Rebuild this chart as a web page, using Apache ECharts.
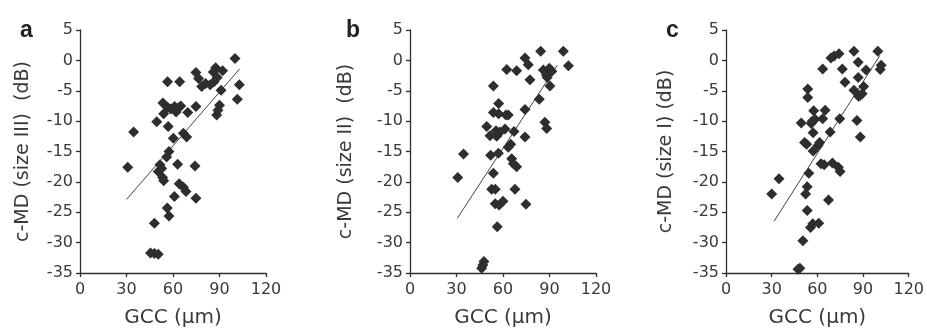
<!DOCTYPE html>
<html><head><meta charset="utf-8">
<script src="https://cdn.jsdelivr.net/npm/echarts@6/dist/echarts.min.js"></script>
<style>html,body{margin:0;padding:0;background:#fff}#c{width:927px;height:335px}</style>
</head><body><div id="c"></div>
<script>
// Panel labels and axis titles
const panelLetters = ['a', 'b', 'c'];
const yTitles = ['c-MD (size III)  (dB)', 'c-MD (size II)  (dB)', 'c-MD (size I) (dB)'];
const xTitle = 'GCC (µm)';
const xTicks = [0, 30, 60, 90, 120];
const yTicks = [-35, -30, -25, -20, -15, -10, -5, 0, 5];

// Panel a: GCC (x) and c-MD size III (y)
const gccA = [100,30.8,34.6,56.5,64.3,74.8,76.5,78.5,81,84,86,87.5,88.5,92,86.5,91,102.8,101.5,88.2,89,90,74.8,69.5,53.5,56.5,58.5,61,63.5,65,54,62,49.5,56.9,60.2,66.7,68.8,57.4,55.9,51.6,52.7,50.5,53.3,54,63,74.2,64,66.7,68.4,74.8,60.9,56.3,57.4,48,45.5,50.5,48];
const mdA  = [0.3,-17.6,-11.8,-3.5,-3.5,-2,-3,-4.3,-3.8,-4,-1.9,-1.2,-2.8,-1.7,-3.5,-4.9,-4,-6.4,-9,-8.2,-7.4,-7.6,-8.6,-7,-7.7,-8,-7.6,-7.8,-7.5,-8.8,-8.5,-10.1,-10.9,-12.8,-12,-12.6,-15,-15.9,-17.2,-17.8,-18.3,-19.3,-19.8,-17.1,-17.4,-20.3,-20.9,-21.6,-22.7,-22.4,-24.3,-25.6,-26.8,-31.7,-31.9,-31.8];
const fitA = [[30, -22.9], [103, -1.4]];

// Panel b: GCC (x) and c-MD size II (y)
const gccB = [30.8,34.5,53.8,57.2,53.8,57.2,61.9,63.4,62.4,68.8,74.2,76.3,77.4,84.3,86,88,89.9,88.5,91.5,90.3,98.9,102.2,83.4,87,88.2,74.2,74.2,67.1,63.4,65,65.6,66.7,68.8,52,57,49.5,51.6,55.9,58,61.3,53.8,52.7,55,67.7,55,57.5,60,74.8,56.3,46.2,47.7,47,56.5,55.5];
const mdB  = [-19.3,-15.4,-4.2,-7.1,-8.6,-8.8,-9,-9,-1.5,-1.7,0.4,-0.7,-3.2,1.5,-1.6,-2.4,-1.3,-2.8,-1.8,-4.2,1.5,-0.9,-6.4,-10.2,-11.2,-8.1,-12.6,-11.7,-14.3,-13.8,-16.2,-17,-17.5,-15.6,-15.3,-10.9,-12.4,-12.5,-11.8,-11.3,-18.6,-21.2,-21.2,-21.2,-23.6,-23.8,-23.2,-23.7,-27.4,-34.2,-33.1,-33.7,-12.2,-11.6];
const fitB = [[30.5, -26], [95, -0.8]];

// Panel c: GCC (x) and c-MD size I (y)
const gccC = [30,34.8,53.7,53.7,63.5,68.9,71,74.2,76.4,78.1,84,86.8,92,99.7,101.9,101.3,86.8,84,89.4,90.4,87,88,86,88.2,74.7,68.4,65.1,63.5,57.6,58.5,56,49.4,57.2,51.6,53,57.2,60.4,61.5,62.4,64.5,69.9,73.8,74.9,54.4,53.3,52.3,53.3,67.3,57,60.9,55.5,50.5,47.3,48.5,56.5];
const mdC  = [-22,-19.5,-4.7,-6.1,-1.4,0.4,0.7,1.1,-1.4,-3.6,1.5,-0.3,-1.6,1.5,-0.8,-1.5,-2.8,-4.9,-5.5,-4.3,-5.9,-5.8,-9.9,-12.6,-9.6,-11.8,-8.2,-9.6,-8.3,-9.7,-10.4,-10.3,-11.9,-13.5,-13.8,-14.9,-14,-13.5,-17,-17.2,-16.9,-17.6,-18.3,-18.6,-20.8,-22,-24.7,-23,-26.9,-26.8,-27.5,-29.7,-34.4,-34.2,-10];
const fitC = [[31.5, -26.5], [101, 0.8]];

const panels = [[gccA, mdA, fitA], [gccB, mdB, fitB], [gccC, mdC, fitC]];
const lefts = [80, 410, 726];
const yNameGaps = [47, 54, 50];
const letterX = [15, 341, 661];
const FONT = '"DejaVu Sans", sans-serif';
const LFONT = '"Liberation Sans", Arial, sans-serif';
const dark = '#2e2e2e';
const textC = '#3a3a3a';

const grid = [], xAxis = [], yAxis = [], series = [], title = [];
panels.forEach((p, i) => {
  grid.push({ left: lefts[i], top: 30, width: 186, height: 243, containLabel: false });
  xAxis.push({
    gridIndex: i, type: 'value', min: xTicks[0], max: xTicks[xTicks.length - 1], interval: 30,
    name: xTitle, nameLocation: 'middle', nameGap: 35,
    nameTextStyle: { fontFamily: FONT, fontSize: 20, color: textC },
    axisLine: { onZero: false, lineStyle: { color: dark, width: 1.3 } },
    axisTick: { show: true, length: 4, lineStyle: { color: dark, width: 1.3 } },
    axisLabel: { fontFamily: FONT, fontSize: 16, color: textC, margin: 9 },
    splitLine: { show: false }
  });
  yAxis.push({
    gridIndex: i, type: 'value', min: yTicks[0], max: yTicks[yTicks.length - 1], interval: 5,
    name: yTitles[i], nameLocation: 'middle', nameGap: yNameGaps[i], nameRotate: 90,
    nameTextStyle: { fontFamily: FONT, fontSize: 19, color: textC },
    axisLine: { show: true, onZero: false, lineStyle: { color: dark, width: 1.3 } },
    axisTick: { show: true, length: 4, lineStyle: { color: dark, width: 1.3 } },
    axisLabel: { fontFamily: FONT, fontSize: 16, color: textC, margin: 7 },
    splitLine: { show: false }
  });
  series.push({
    type: 'scatter', xAxisIndex: i, yAxisIndex: i,
    symbol: 'diamond', symbolSize: 11,
    itemStyle: { color: dark, opacity: 1 },
    data: p[0].map((x, k) => [x, p[1][k]]), z: 3
  });
  series.push({
    type: 'line', xAxisIndex: i, yAxisIndex: i, data: p[2],
    showSymbol: false, symbol: 'none',
    lineStyle: { color: '#444', width: 1 }, z: 2
  });
  title.push({
    text: panelLetters[i], left: letterX[i], top: 14,
    textStyle: { fontFamily: LFONT, fontSize: 23, fontWeight: 'bold', color: '#222' }
  });
});

const chart = echarts.init(document.getElementById('c'), null, { renderer: 'canvas' });
chart.setOption({ animation: false, backgroundColor: '#fff', title, grid, xAxis, yAxis, series });
</script></body></html>
